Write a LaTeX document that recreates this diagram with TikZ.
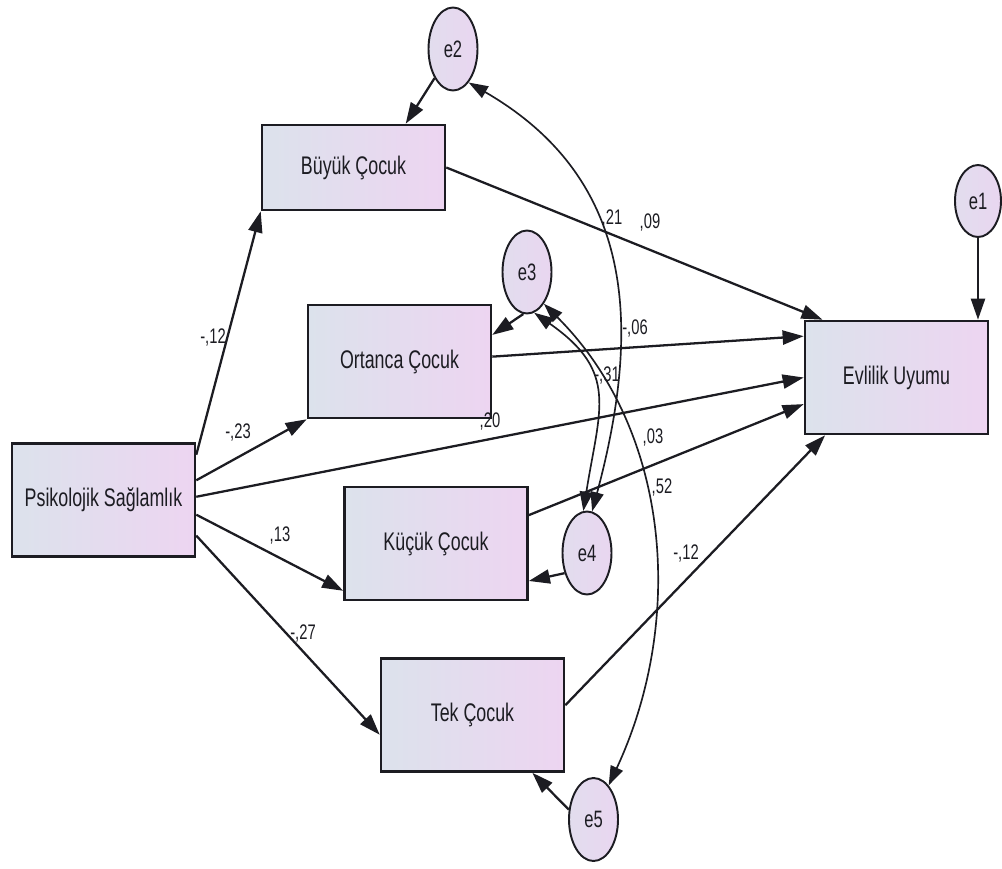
\documentclass[tikz,border=0pt]{standalone}
\usepackage{fontspec}
\setmainfont{Liberation Sans}[FakeStretch=0.7]
\usepackage{tikz}
\usetikzlibrary{arrows.meta,positioning,shapes.geometric}
\usepackage{xcolor}
\definecolor{boxleft}{HTML}{DCE2EC}
\definecolor{boxright}{HTML}{EDD5F1}
\definecolor{errleft}{HTML}{E2DDEE}
\definecolor{errright}{HTML}{E9D6F0}
\definecolor{ink}{HTML}{1C1C22}

\begin{document}
\begin{tikzpicture}[
  x=0.02cm, y=0.02cm,
  obs/.style={rectangle, draw=ink, line width=1.5pt, left color=boxleft, right color=boxright,
              minimum width=3.66cm, minimum height=2.26cm, inner sep=0pt,
              text=ink, font=\fontsize{14.5}{16}\selectfont},
  err/.style={ellipse, draw=ink, line width=1.1pt, left color=errleft, right color=errright,
              minimum width=0.98cm, minimum height=1.66cm, inner sep=0pt,
              text=ink, font=\fontsize{13.5}{15}\selectfont},
  reg/.style={-{Triangle[length=12pt,width=8pt]}, line width=1.3pt, draw=ink},
  cov/.style={{Triangle[length=11pt,width=7.5pt]}-{Triangle[length=11pt,width=7.5pt]},
              line width=0.95pt, draw=ink},
  coef/.style={inner sep=0pt, text=ink, font=\fontsize{12}{14}\selectfont}
]
  \useasboundingbox (0,0) rectangle (1002,-869);

  %--- OBSERVED VARIABLES ---
  \node[obs] (psik) at (103.5,-500) {Psikolojik Sağlamlık};
  \node[obs, minimum height=1.7cm] (buyuk) at (353.5,-167.5) {Büyük Çocuk};
  \node[obs] (ortanca) at (399.5,-361.5) {Ortanca Çocuk};
  \node[obs] (kucuk) at (436,-543.5) {Küçük Çocuk};
  \node[obs] (tek) at (472.5,-715) {Tek Çocuk};
  \node[obs] (evlilik) at (896.5,-377.5) {Evlilik Uyumu};

  %--- ERRORS ---
  \node[err, minimum width=0.92cm, minimum height=1.44cm] (e1) at (978,-201) {e1};
  \node[err] (e2) at (453,-49) {e2};
  \node[err] (e3) at (527,-272) {e3};
  \node[err] (e4) at (587,-553) {e4};
  \node[err] (e5) at (593.5,-819.5) {e5};

  % Paths from Psikolojik
  \draw[reg] (psik.26) -- (buyuk.south west);
  \draw[reg] (psik.12) -- (ortanca.south west);
  \draw[reg] (psik.2) -- (evlilik.west);
  \draw[reg] (psik.-9) -- (kucuk.207);
  \draw[reg] (psik.-21) -- (tek.192);
  % Paths to Evlilik
  \draw[reg] (buyuk.east) -- (evlilik.142);
  \draw[reg] (ortanca.3) -- (evlilik.156);
  \draw[reg] (kucuk.17) -- (evlilik.196);
  \draw[reg] (tek.6) -- (evlilik.219);
  % Error arrows
  \draw[reg] (e1) -- (e1 |- evlilik.north);
  \draw[reg] (e2) -- (buyuk.40);
  \draw[reg] (e3.265) -- (ortanca.16);
  \draw[reg] (e4.222) -- (kucuk.-22);
  \draw[reg] (e5.158) -- (tek.-44);

  % Covariances
  \draw[cov] (e2.-65) to[out=-30, in=75, looseness=1.1] (e4.83);
  \draw[cov] (e3.-80) to[out=-35, in=81, looseness=1.3] (e4.95);
  \draw[cov] (e3.-62) to[out=-45, in=65, looseness=0.95] (e5.66);

  % Coefficients
  \foreach \i/\x/\y/\lbl in {1/213/337/{-,12}, 2/238/432/{-,23}, 3/490/421/{,20},
                             4/612/218/{,21}, 5/650/222/{,09}, 6/635/328/{-,06},
                             7/607/375/{-,31}, 8/653/437/{,03}, 9/662/487/{,52},
                             10/280/535/{,13}, 11/303/633/{-,27}, 12/686/553/{-,12}}{
    \node[coef] (c\i) at (\x,-\y) {\lbl};
  }

\end{tikzpicture}
\end{document}
